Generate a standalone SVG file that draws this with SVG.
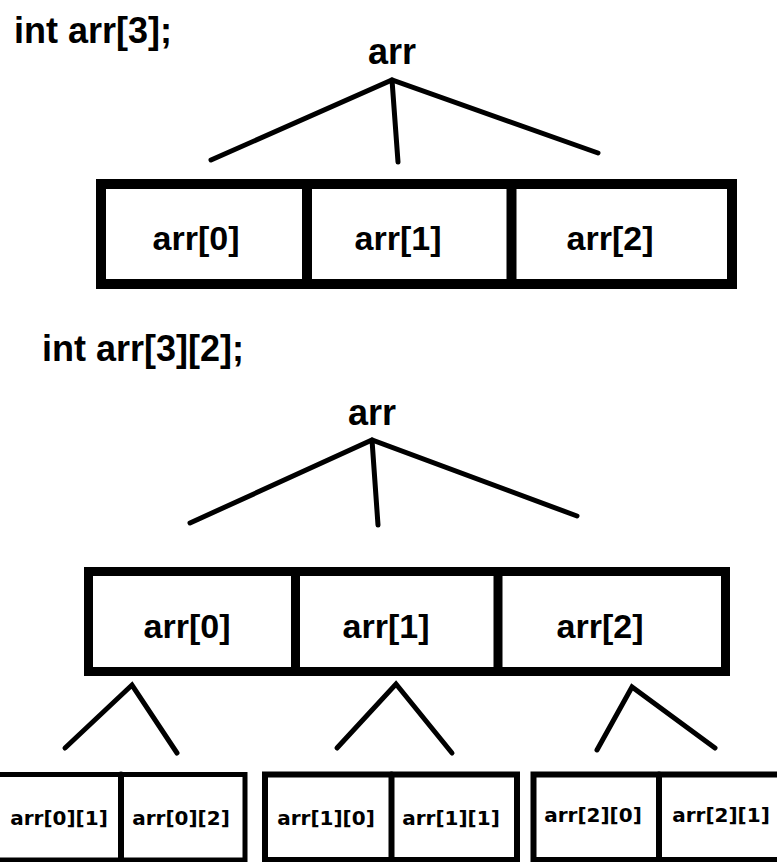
<svg xmlns="http://www.w3.org/2000/svg" width="777" height="862" viewBox="0 0 777 862">
<style>
.h{font-family:"Liberation Sans",Arial,sans-serif;font-weight:bold;font-size:36px;fill:#000}
.c{font-family:"Liberation Sans",Arial,sans-serif;font-weight:bold;font-size:34px;fill:#000;text-anchor:middle}
.s{font-family:"DejaVu Sans",Tahoma,sans-serif;font-weight:bold;font-size:20px;fill:#000;text-anchor:middle}
.box{fill:#fff;stroke:#000}
.ln{stroke:#000;fill:none;stroke-linecap:round}
</style>
<rect width="777" height="862" fill="#fff"/>
<g id="title1"><text class="h" x="14" y="43">int arr[3];</text></g>
<g id="root1"><text class="h" x="392" y="64" text-anchor="middle">arr</text></g>
<g id="arr1d">
<rect class="box" x="101" y="184" width="631" height="100" stroke-width="10"/>
<line class="ln" x1="307" y1="184" x2="307" y2="284" stroke-width="10" stroke-linecap="butt"/>
<line class="ln" x1="511.5" y1="184" x2="511.5" y2="284" stroke-width="10" stroke-linecap="butt"/>
<text class="c" x="196" y="250">arr[0]</text>
<text class="c" x="398" y="250">arr[1]</text>
<text class="c" x="610" y="250">arr[2]</text>
</g>
<g id="title2"><text class="h" x="42" y="361">int arr[3][2];</text></g>
<g id="root2"><text class="h" x="372" y="425" text-anchor="middle">arr</text></g>
<g id="arr2d">
<rect class="box" x="88.5" y="571.5" width="637" height="100" stroke-width="9"/>
<line class="ln" x1="295.5" y1="571.5" x2="295.5" y2="671.5" stroke-width="9" stroke-linecap="butt"/>
<line class="ln" x1="498" y1="571.5" x2="498" y2="671.5" stroke-width="9" stroke-linecap="butt"/>
<text class="c" x="187" y="638">arr[0]</text>
<text class="c" x="386" y="638">arr[1]</text>
<text class="c" x="600" y="638">arr[2]</text>
</g>
<g id="sub0">
<rect class="box" x="-7" y="774.5" width="252" height="85.5" stroke-width="5"/>
<line class="ln" x1="121" y1="774.5" x2="121" y2="860" stroke-width="6" stroke-linecap="butt"/>
<text class="s" x="59" y="825">arr[0][1]</text>
<text class="s" x="181" y="825">arr[0][2]</text>
</g>
<g id="sub1">
<rect class="box" x="265" y="774.5" width="252" height="85.5" stroke-width="6"/>
<line class="ln" x1="391.5" y1="774.5" x2="391.5" y2="860" stroke-width="6" stroke-linecap="butt"/>
<text class="s" x="326" y="825">arr[1][0]</text>
<text class="s" x="451" y="825">arr[1][1]</text>
</g>
<g id="sub2">
<rect class="box" x="533.5" y="774.5" width="260" height="85.5" stroke-width="6"/>
<line class="ln" x1="659" y1="774.5" x2="659" y2="860" stroke-width="6" stroke-linecap="butt"/>
<text class="s" x="593" y="822">arr[2][0]</text>
<text class="s" x="721" y="822">arr[2][1]</text>
</g>
<g id="connectors" class="ln">
<polyline points="211,160 392,80 598,153" stroke-width="5"/>
<line x1="392" y1="80" x2="398" y2="162" stroke-width="5"/>
<polyline points="190,523 372,440 577,516" stroke-width="5"/>
<line x1="372" y1="440" x2="378" y2="525" stroke-width="5"/>
<polyline points="65,748 132,685 177,753" stroke-width="5"/>
<polyline points="337,748 396,684 452,753" stroke-width="5"/>
<polyline points="597,750 632,687 715,748" stroke-width="5"/>
</g>
</svg>
